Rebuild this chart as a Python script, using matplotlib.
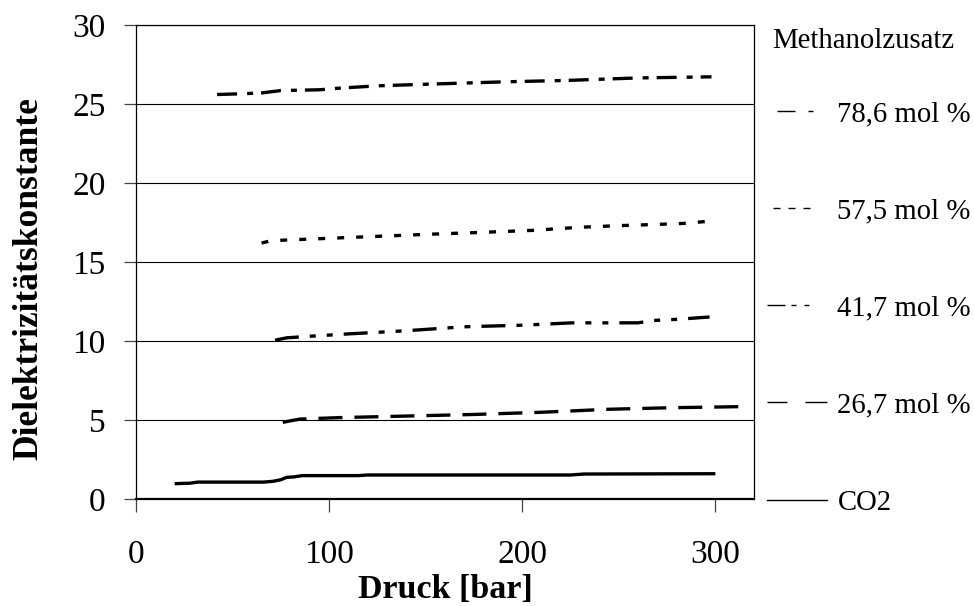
import matplotlib
matplotlib.use("Agg")
import matplotlib.pyplot as plt
from matplotlib.lines import Line2D

plt.rcParams['font.family'] = ['Liberation Serif', 'DejaVu Serif']
plt.rcParams['lines.scale_dashes'] = False

# Messwerte: Druck [bar] und Dielektrizitätskonstante je Methanolzusatz
p_co2 = [20, 28, 32, 66, 71, 75, 78, 82, 86, 115, 120, 225, 232, 300]
e_co2 = [0.97, 1.0, 1.07, 1.07, 1.12, 1.22, 1.37, 1.4, 1.48, 1.48, 1.52, 1.52, 1.58, 1.6]

p_267 = [76, 80, 85, 105, 140, 175, 210, 245, 278, 300, 315]
e_267 = [4.85, 4.95, 5.06, 5.15, 5.25, 5.35, 5.49, 5.68, 5.78, 5.82, 5.85]

p_417 = [72, 78, 90, 110, 140, 170, 200, 226, 260, 268, 280, 297]
e_417 = [10.05, 10.2, 10.3, 10.45, 10.65, 10.9, 11.0, 11.15, 11.15, 11.3, 11.37, 11.52]

p_575 = [65, 70, 80, 100, 130, 155, 180, 205, 230, 250, 270, 285, 298]
e_575 = [16.2, 16.35, 16.4, 16.5, 16.65, 16.77, 16.88, 17.0, 17.2, 17.3, 17.38, 17.45, 17.6]

p_786 = [42, 55, 65, 75, 95, 105, 125, 150, 190, 225, 260, 298]
e_786 = [25.6, 25.65, 25.7, 25.85, 25.9, 26.0, 26.15, 26.25, 26.4, 26.5, 26.65, 26.72]

labels = ['78,6 mol %', '57,5 mol %', '41,7 mol %', '26,7 mol %', 'CO2']

PX = 1 / 1.389  # Pixel -> Punkt bei 100 dpi


def px(*vals):
    return tuple(v * PX for v in vals)


fig = plt.figure(figsize=(9.74, 6.06), dpi=100)
ax = fig.add_axes([136 / 974, 1 - 499 / 606, (754 - 136) / 974, (499 - 25) / 606])

lw = 2.4
ax.plot(p_co2, e_co2, color='black', lw=lw, solid_capstyle='butt')
ax.plot(p_267, e_267, color='black', lw=lw, dash_capstyle='butt', linestyle=(0, px(24, 12)))
ax.plot(p_417, e_417, color='black', lw=lw, dash_capstyle='butt', linestyle=(0, px(24, 11, 6, 11, 6, 11)))
ax.plot(p_575, e_575, color='black', lw=lw, dash_capstyle='butt', linestyle=(0, px(7, 12)))
ax.plot(p_786, e_786, color='black', lw=lw, dash_capstyle='butt', linestyle=(0, px(20, 10, 6, 8)))

ax.set_xlim(0, 320)
ax.set_ylim(0, 30)
ax.set_xticks([0, 100, 200, 300])
ax.set_yticks([0, 5, 10, 15, 20, 25, 30])
ax.yaxis.grid(True, color='black', lw=0.8)
ax.set_axisbelow(True)

for s in ax.spines.values():
    s.set_linewidth(0.9)
ax.spines['bottom'].set_linewidth(1.6)

ax.tick_params(axis='both', direction='out', length=9, width=0.9, labelsize=24, color='#444444')
ax.tick_params(axis='x', pad=20)
ax.tick_params(axis='y', pad=13)

ax.set_xlabel('Druck [bar]', fontsize=24.5, fontweight='bold', va='center')
ax.set_ylabel('Dielektrizitätskonstante', fontsize=25.5, fontweight='bold', va='center')
ax.xaxis.set_label_coords(0.5, (499 - 590) / 474)
ax.yaxis.set_label_coords((29 - 136) / 618, (499 - 279) / 474)

# Legende rechts neben dem Diagramm
thin = 1.0
handles = [
    Line2D([], [], color='black', lw=thin, dash_capstyle='butt', linestyle=(0, px(0.01, 10, 18, 13, 5, 40))),
    Line2D([], [], color='black', lw=thin, dash_capstyle='butt', linestyle=(0, px(0.01, 6, 7, 8, 7, 8, 7, 40))),
    Line2D([], [], color='black', lw=thin, dash_capstyle='butt', linestyle=(0, px(18, 6, 5, 8, 5, 40))),
    Line2D([], [], color='black', lw=thin, dash_capstyle='butt', linestyle=(0, px(20, 18, 22, 40))),
    Line2D([], [], color='black', lw=thin),
]
fs_leg = 20.7
fig.text(772 / 974, 1 - 41 / 606, 'Methanolzusatz', fontsize=fs_leg, ha='left', va='center')
ax.legend(handles, labels, loc='upper left', bbox_to_anchor=(767 / 974, 1 - 101 / 606),
          bbox_transform=fig.transFigure, frameon=False, fontsize=fs_leg,
          handlelength=2.1, handletextpad=0.35, labelspacing=2.47,
          borderpad=0, borderaxespad=0)

fig.savefig('out.png', dpi=100)
